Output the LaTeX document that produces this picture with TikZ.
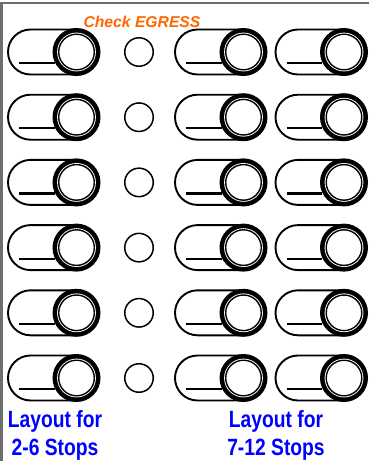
\documentclass[tikz,border=0pt]{standalone}
\usepackage{fontspec}
\setmainfont{Liberation Sans}
\newfontfamily\narrowsans[FakeStretch=0.82]{Liberation Sans}
\definecolor{egress}{RGB}{255,102,0}
\definecolor{layoutblue}{RGB}{0,0,255}
\definecolor{framegray}{RGB}{110,110,110}
\tikzset{
  toggle/.pic={
    \draw[line width=1.9, rounded corners=22.5] (-68.5,-22.5) rectangle (20,22.5);
    \draw[line width=2.2] (-57.5,11) -- (-22,11);
    \fill[black] (0,0) circle (24);
    \fill[white] (0,0) circle (19.4);
    \draw[line width=1.4, fill=white] (0,0) circle (17.8);
  },
  dot/.style={circle, draw, line width=1.5, minimum size=28.5, inner sep=0},
  layouttext/.style={anchor=base, text=layoutblue, font=\narrowsans\bfseries\fontsize{23.5}{28}\selectfont},
}
\begin{document}
\begin{tikzpicture}[x=1pt,y=-1pt]
\useasboundingbox (0,0) rectangle (369,461);
\draw[framegray, line width=2.5] (1.5,461) -- (1.5,3) -- (369,3);
\foreach \r/\y in {1/52,2/117.2,3/182.4,4/247.6,5/312.8,6/378}{
  \pic (a\r) at (76.5,\y) {toggle};
  \node[dot] (c\r) at (139,\y) {};
  \pic (b\r) at (243.5,\y) {toggle};
  \pic (d\r) at (344,\y) {toggle};
}
\node[anchor=base, text=egress, font=\bfseries\itshape\fontsize{15.7}{18}\selectfont] (check) at (142,27) {Check EGRESS};
\node[layouttext] (l1a) at (55,427) {Layout for};
\node[layouttext] (l1b) at (55,455) {2-6 Stops};
\node[layouttext] (l2a) at (276,427) {Layout for};
\node[layouttext] (l2b) at (276,455) {7-12 Stops};
\end{tikzpicture}
\end{document}
